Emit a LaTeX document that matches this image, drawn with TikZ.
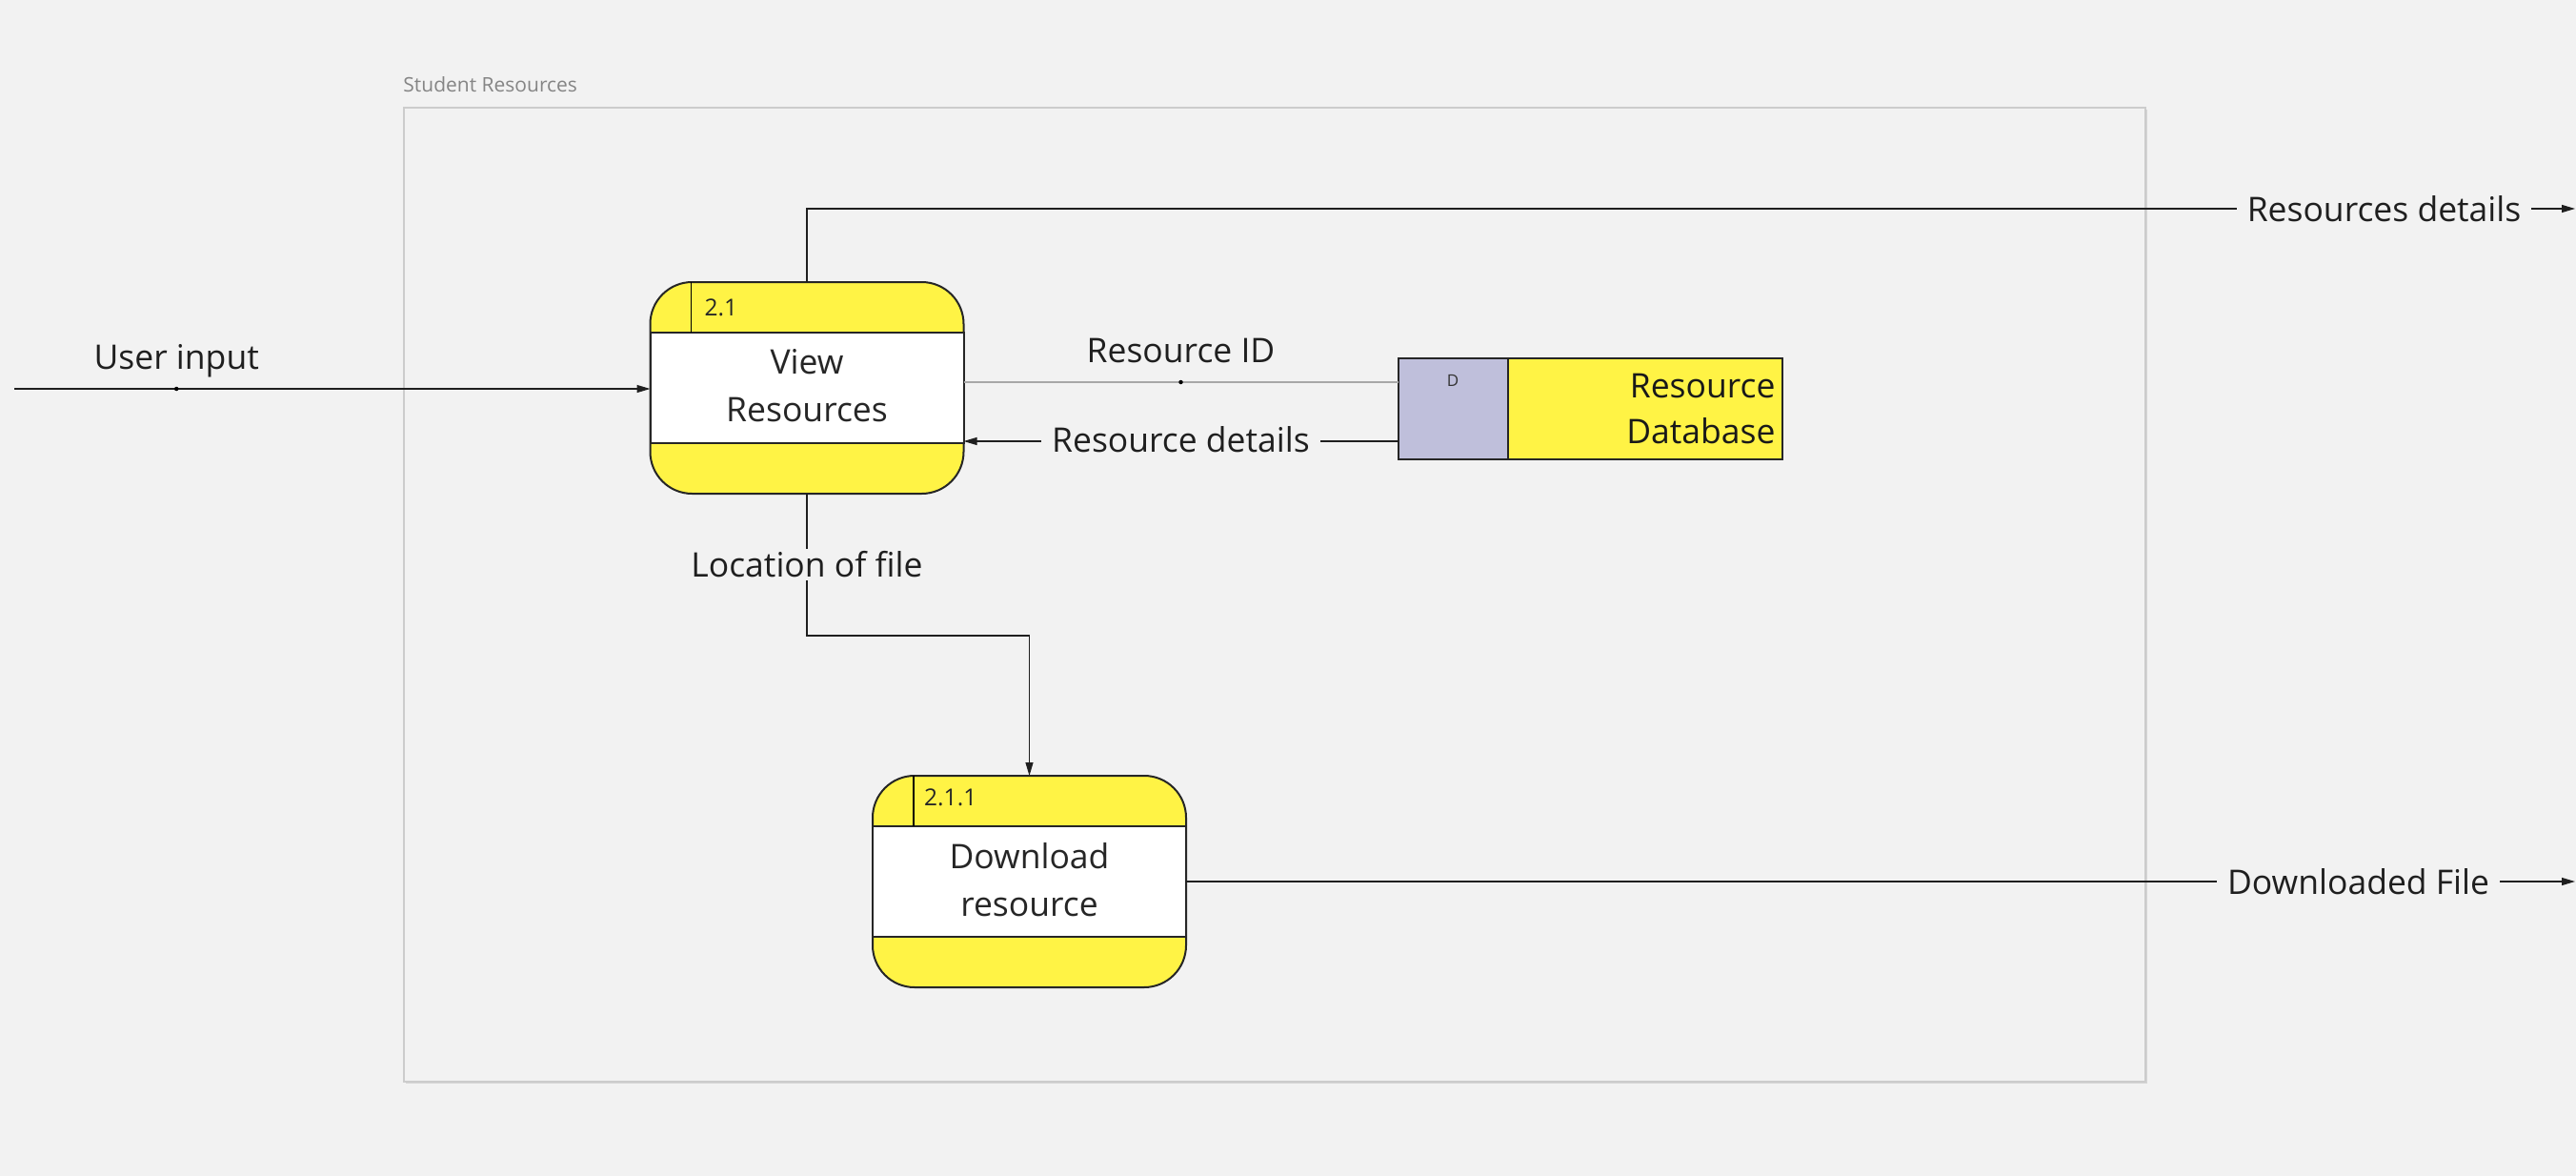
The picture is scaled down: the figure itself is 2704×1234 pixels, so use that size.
\documentclass[tikz,border=0pt]{standalone}
\usepackage{fontspec}
\setmainfont{Open Sans}
\usetikzlibrary{positioning,arrows.meta,shadows}
\definecolor{dfdyellow}{HTML}{FFF345}
\definecolor{dfdstore}{HTML}{BFBFDB}
\definecolor{dfdbg}{HTML}{F2F2F2}
\definecolor{dfdline}{HTML}{A8A8A8}
\begin{document}
\begin{tikzpicture}[x=1pt,y=-1pt,proc/.style={draw=black!85,line width=2pt,fill=dfdyellow,rounded corners=44pt,minimum width=329pt,minimum height=222pt,inner sep=0pt,outer sep=0pt},ptxt/.style={font=\fontsize{35.5}{50}\selectfont,align=center,text=black!85,inner sep=0pt},pid/.style={font=\fontsize{24.5}{28}\selectfont,anchor=west,inner sep=0pt,text=black!85},lbl/.style={font=\fontsize{35.5}{42}\selectfont,text=black!88,inner sep=0pt},gap/.style={fill=dfdbg,inner xsep=11pt,inner ysep=3pt},flow/.style={draw=black!88,line width=1.2pt,-{Triangle[length=14pt,width=8pt]}},dot/.style={circle,fill=black,inner sep=0pt,minimum size=4.5pt},store/.style={draw=black!85,line width=2pt,minimum height=106pt,outer sep=0pt,inner sep=0pt}]
\fill[dfdbg] (0,0) rectangle (2704,1234);
\useasboundingbox (0,0) rectangle (2704,1234);

% context box
\node[draw=black!20,line width=1.5pt,fill=dfdbg,minimum width=1828pt,minimum height=1022pt,drop shadow={shadow xshift=2pt,shadow yshift=-2pt,opacity=0.25,fill=black!50}] (sr) at (1338,624) {};
\node[font=\fontsize{21}{24}\selectfont,text=black!48,anchor=west,inner sep=0pt] (srlbl) at ([yshift=24pt]sr.north west) {Student Resources};

% processes
\node[proc] (vr) at (847,407) {};
\draw[line width=2pt,draw=black!85,fill=white] ([yshift=-53pt]vr.north west) rectangle ([yshift=53pt]vr.south east);
\draw[line width=1.2pt] ([xshift=43pt]vr.north west) -- ([xshift=43pt,yshift=-53pt]vr.north west);
\node[pid] (vrid) at ([xshift=57pt,yshift=-27pt]vr.north west) {2.1};
\node[ptxt] (vrtxt) at ([yshift=2pt]vr.center) {View\\Resources};

\node[proc] (dl) at (1080.5,925) {};
\draw[line width=2pt,draw=black!85,fill=white] ([yshift=-53pt]dl.north west) rectangle ([yshift=53pt]dl.south east);
\draw[line width=1.2pt] ([xshift=43pt]dl.north west) -- ([xshift=43pt,yshift=-53pt]dl.north west);
\node[pid] (dlid) at ([xshift=54pt,yshift=-23pt]dl.north west) {2.1.1};
\node[ptxt] (dltxt) at ([yshift=2pt]dl.center) {Download\\resource};

% data store
\node[store,fill=dfdstore,minimum width=115pt] (dbk) at (1525,429) {};
\node[store,fill=dfdyellow,text width=274pt,inner xsep=7pt,align=right,font=\fontsize{35.5}{48}\selectfont,text=black!90,right=0pt of dbk] (dbn) {Resource\\Database};
\node[font=\fontsize{17}{20}\selectfont,text=black!80,inner sep=0pt] (dbd) at ([yshift=-23pt]dbk.north) {D};

% flows
\coordinate (uin) at (15,408);
\draw[flow] (uin) -- (vr.west |- uin) node[dot,pos=0.255]{} node[lbl,pos=0.255,yshift=29pt]{User input};

\coordinate (rid) at ([yshift=6pt]vr.east);
\draw[draw=dfdline,line width=1.5pt] (rid) -- (rid -| dbk.west) node[dot,midway]{} node[lbl,midway,yshift=33pt]{Resource ID};

\coordinate (rdet) at ([yshift=-34pt]dbk.west);
\draw[flow] (rdet) -- node[lbl,gap,yshift=2pt]{Resource details} (rdet -| vr.east);

\coordinate (rdout) at (2703,219);
\draw[flow] (vr.north) |- node[lbl,gap,pos=0.946]{Resources details} (rdout);

\draw[flow] (vr.south) -- node[lbl,gap]{Location of file} ++(0,149) -| (dl.north);

\coordinate (dfout) at (2703,925);
\draw[flow] (dl.east) -- node[lbl,gap,pos=0.844]{Downloaded File} (dfout);
\end{tikzpicture}
\end{document}
